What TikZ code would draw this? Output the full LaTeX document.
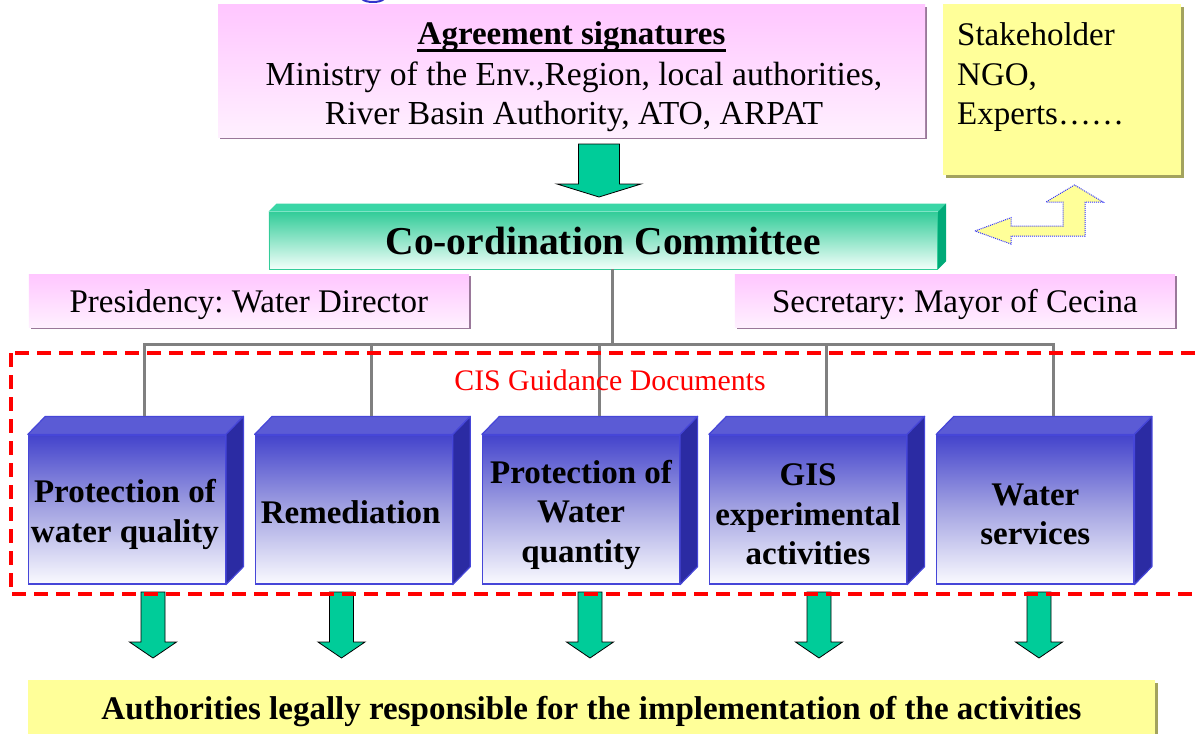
\documentclass[tikz,border=0pt]{standalone}
\usepackage{fontspec}
\setmainfont{Liberation Serif}
\usetikzlibrary{calc,shadows}
\frenchspacing

\definecolor{pinktop}{HTML}{FFC6FF}
\definecolor{pinkbot}{HTML}{FFF0FF}
\definecolor{pinkshadow}{HTML}{9A789A}
\definecolor{paleyellow}{HTML}{FFFF99}
\definecolor{yellowshadow}{HTML}{A3A35E}
\definecolor{cmtop}{HTML}{33CC99}
\definecolor{cmbot}{HTML}{F2FFFA}
\definecolor{cmcap}{HTML}{3AD6A6}
\definecolor{cmside}{HTML}{00AA78}
\definecolor{arrowgreen}{HTML}{00CC99}
\definecolor{bluetop}{HTML}{4343CC}
\definecolor{bluemid}{HTML}{A4A4E2}
\definecolor{bluebot}{HTML}{FAFAFF}
\definecolor{bluecap}{HTML}{5B5BD5}
\definecolor{blueside}{HTML}{2B2BA3}
\definecolor{blueedge}{HTML}{4646D8}
\definecolor{connector}{HTML}{808080}
\definecolor{cisred}{HTML}{FF0000}
\definecolor{titleblue}{HTML}{3333CC}

\newcommand\fsz[2]{\fontsize{#1}{#2}\selectfont}

% block arrow pointing down: centre x, top, head base, tip, shaft half width, head half width
\newcommand\greenarrow[6]{%
  \filldraw[garrow] ({#1-#5},#2) -- ({#1+#5},#2) -- ({#1+#5},#3) -- ({#1+#6},#3)
    -- (#1,#4) -- ({#1-#6},#3) -- ({#1-#5},#3) -- cycle;}

% 3D block: cap and side faces drawn on a named front node
\newcommand\blockfaces[1]{%
  \filldraw[blockcap] (#1.north west) -- ++(17.5,-18) -- ([shift={(17.5,-18)}]#1.north east)
    -- (#1.north east) -- cycle;
  \filldraw[blockside] (#1.north east) -- ++(17.5,-18) -- ([shift={(17.5,-18)}]#1.south east)
    -- (#1.south east) -- cycle;}

\tikzset{
  pinkbox/.style={rectangle, inner sep=0pt, top color=pinktop, bottom color=pinkbot,
    drop shadow={shadow xshift=2pt, shadow yshift=-2pt, fill=pinkshadow, opacity=1}},
  yellowbox/.style={rectangle, inner sep=0pt, fill=paleyellow,
    drop shadow={shadow xshift=3pt, shadow yshift=-3pt, fill=yellowshadow, opacity=1}},
  cmfront/.style={rectangle, inner sep=0pt, top color=cmtop, bottom color=cmbot,
    draw=cmtop, line width=0.8pt, font=\bfseries\fsz{39.5}{44}},
  bluefront/.style={rectangle, inner sep=0pt, minimum width=197pt, minimum height=149pt,
    top color=bluetop, bottom color=bluebot, middle color=bluemid,
    draw=blueedge, line width=1.2pt},
  blocktext/.style={align=center, inner sep=0pt, font=\bfseries\fsz{33}{39.5}},
  blockcap/.style={fill=bluecap, draw=blueedge, line width=1.2pt, line join=round},
  blockside/.style={fill=blueside, draw=blueedge, line width=1.2pt, line join=round},
  garrow/.style={fill=arrowgreen, draw=black, line width=0.8pt},
  bentarrow/.style={fill=paleyellow, draw=blue!80, line width=1pt, dash pattern=on 1pt off 1pt},
  conn/.style={draw=connector, line width=3pt},
  bodytext/.style={font=\fsz{33}{39.5}},
}

\begin{document}
\begin{tikzpicture}[x=1pt,y=-1pt]
\useasboundingbox (0,0) rectangle (1198,733);
\fill[white] (0,0) rectangle (1198,733);

% fragment of the heading glyph above the panel
\draw[titleblue, line width=2pt] (362,-1) .. controls (366,3) and (380,3) .. (384,-1);

% agreement panel
\node[pinkbox, minimum width=707pt, minimum height=132pt] (agree) at (571.5,71) {};
\node[font=\bfseries\fsz{33}{39.5}, inner sep=0pt, anchor=base] (agreetitle) at (571.5,45)
  {Agreement signatures};
\draw[line width=2.5pt] ([yshift=-5.5pt]agreetitle.base west) -- ([yshift=-5.5pt]agreetitle.base east);
\node[font=\fsz{33.6}{39.5}, align=center, inner sep=0pt, anchor=north] (agreebody) at (574,61.2)
  {Ministry of the Env.,Region, local authorities,\\River Basin Authority, ATO, ARPAT};

% stakeholder note
\node[yellowbox, minimum width=238pt, minimum height=171pt] (stake) at (1061.7,89.5) {};
\node[bodytext, align=left, inner sep=0pt, anchor=north west] (staketext) at (957,22.5)
  {Stakeholder\\NGO,\\Experts……};

% two-way bent arrow between committee and stakeholders
\filldraw[bentarrow] (975,231) -- (1011,217.7) -- (1011,226) -- (1063,226) -- (1063,202)
  -- (1046,202) -- (1074.5,185) -- (1103,202) -- (1085,202) -- (1085,236) -- (1011,236)
  -- (1011,244) -- cycle;

% arrow into the committee
\greenarrow{599}{144}{184}{197}{20.5}{42}

% co-ordination committee block
\node[cmfront, minimum width=668.7pt, minimum height=57pt] (comm) at (603.3,240.5) {Co-ordination Committee};
\fill[cmcap] (comm.north west) -- ++(8,-8) -- ([shift={(8,-8)}]comm.north east) -- (comm.north east) -- cycle;
\fill[cmside] (comm.north east) -- ++(8,-8) -- ([shift={(8,-8)}]comm.south east) -- (comm.south east) -- cycle;

% presidency and secretary
\node[pinkbox, bodytext, minimum width=440pt, minimum height=53pt, text height=30.5pt, text depth=7pt]
  (pres) at (248.8,300.5) {Presidency: Water Director};
\node[pinkbox, bodytext, minimum width=440pt, minimum height=53pt, text height=30.5pt, text depth=7pt]
  (secr) at (954.9,300.5) {Secretary: Mayor of Cecina};

% working group blocks
\node[bluefront] (b1) at (126.9,509.5) {};
\node[bluefront] (b2) at (353.7,509.5) {};
\node[bluefront] (b3) at (581,509.5) {};
\node[bluefront] (b4) at (808,509.5) {};
\node[bluefront] (b5) at (1035.3,509.5) {};
\foreach \b in {b1,b2,b3,b4,b5} {\blockfaces{\b}}
\node[blocktext] (b1text) at ([shift={(-2,5)}]b1.center) {Protection of\\water quality};
\node[blocktext] (b2text) at ([shift={(-3,3)}]b2.center) {Remediation};
\node[blocktext] (b3text) at ([shift={(0,5)}]b3.center) {Protection of\\Water\\quantity};
\node[blocktext] (b4text) at ([shift={(0,5)}]b4.center) {GIS\\experimental\\activities};
\node[blocktext] (b5text) at ([shift={(0,5)}]b5.center) {Water\\services};

% tree connector from the committee to the blocks
\coordinate (hub) at (612,344);
\foreach \b in {b1,b2,b3,b4,b5} {\coordinate (\b top) at ($(\b.north)+(18,-18)$);}
\draw[conn] (comm.south -| hub) -- (hub);
\draw[conn] (b1top) -- (b1top |- hub) -- (b5top |- hub) -- (b5top);
\foreach \b in {b2,b3,b4} {\draw[conn] (\b top) -- (\b top |- hub);}

% output arrows
\greenarrow{153}{592}{642}{658}{12}{23.5}
\greenarrow{341.5}{592}{642}{658}{12}{23.5}
\greenarrow{590}{592}{642}{658}{12}{23.5}
\greenarrow{819}{592}{642}{658}{12}{23.5}
\greenarrow{1039}{592}{642}{658}{12}{23.5}

% guidance documents frame
\draw[cisred, line width=3.5pt, dash pattern=on 14pt off 8pt] (11,353) rectangle (1220,594);
\node[text=cisred, font=\fsz{29.8}{34}, anchor=base, inner sep=0pt] (cis) at (610,390) {CIS Guidance Documents};

% responsible authorities bar
\node[yellowbox, minimum width=1127pt, minimum height=62pt, text height=23pt, text depth=7pt,
  font=\bfseries\fsz{33}{38}] (auth) at (591.5,711)
  {Authorities legally responsible for the implementation of the activities};
\end{tikzpicture}
\end{document}
